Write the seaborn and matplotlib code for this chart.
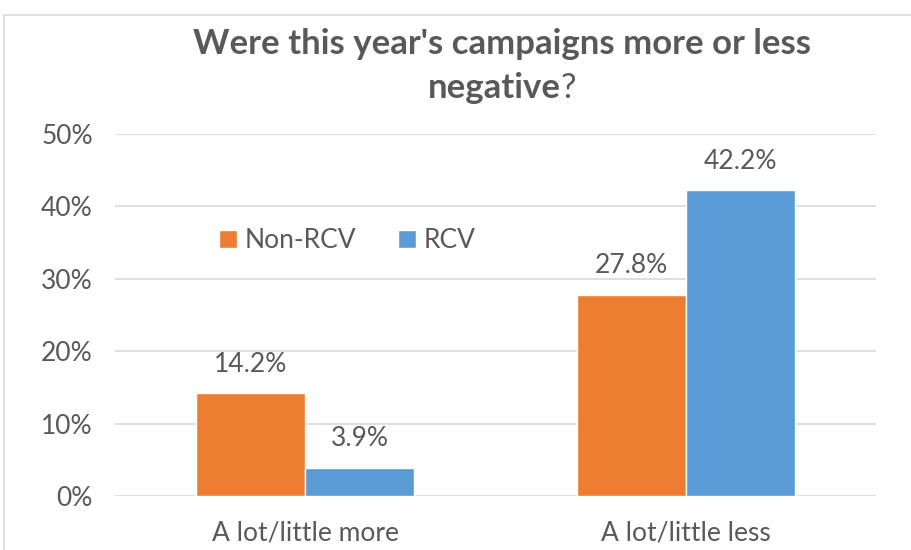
import pandas as pd
import matplotlib.pyplot as plt
import seaborn as sns
from matplotlib.patches import Rectangle

# data
categories = ['A lot/little more', 'A lot/little less']
non_rcv = [14.2, 27.8]
rcv = [3.9, 42.2]
series = ['Non-RCV', 'RCV']
colors = ['#ED7D31', '#5B9BD5']

df = pd.DataFrame({
    'category': categories * 2,
    'value': non_rcv + rcv,
    'group': [series[0]] * 2 + [series[1]] * 2,
})

sns.set_style('white')
plt.rcParams['font.family'] = ['Lato', 'DejaVu Sans']
text_color = '#595959'
fs = 19

fig = plt.figure(figsize=(9.12, 5.5), dpi=100)
ax = fig.add_axes([115 / 912, 1 - 496 / 550, 761 / 912, 362 / 550])

# chart frame
fig.patches.append(Rectangle((4 / 912, 1 - 555 / 550), 2.0, 540 / 550,
                             transform=fig.transFigure, fill=False,
                             edgecolor='#D9D9D9', linewidth=1.2, zorder=0))

sns.barplot(data=df, x='category', y='value', hue='group', palette=colors,
            width=0.573, saturation=1, ax=ax, zorder=3)

ax.set_ylim(0, 50)
ax.set_xlim(-0.5, 1.5)
ax.set_yticks(range(0, 51, 10))
ax.set_yticklabels([f'{v}%' for v in range(0, 51, 10)])
ax.yaxis.grid(True, color='#D9D9D9', linewidth=1.2, zorder=0)
ax.set_axisbelow(True)
for s in ax.spines.values():
    s.set_visible(False)
ax.tick_params(axis='both', length=0, labelsize=fs, colors=text_color)
ax.tick_params(axis='y', pad=16)
ax.tick_params(axis='x', pad=18)
ax.set_xlabel('')
ax.set_ylabel('')

for cont in ax.containers:
    for bar in cont:
        h = bar.get_height()
        ax.text(bar.get_x() + bar.get_width() / 2, h + 2.3, f'{h:.1f}%',
                ha='center', va='bottom', fontsize=fs, color=text_color)

leg = ax.legend(loc='center left', bbox_to_anchor=(0.105, 0.705), ncol=2,
                frameon=False, fontsize=fs, handlelength=0.7, handleheight=0.7,
                handletextpad=0.3, columnspacing=1.55, labelcolor=text_color)

fig.text(502 / 912, 1 - 44 / 550, "Were this year's campaigns more or less",
         ha='center', va='center', fontsize=25, fontweight='bold', color=text_color)

# second title line: bold "negative" + regular "?"
t1 = fig.text(0, 1 - 88 / 550, 'negative', ha='left', va='center',
              fontsize=25, fontweight='bold', color=text_color)
t2 = fig.text(0, 1 - 88 / 550, '?', ha='left', va='center',
              fontsize=25, color=text_color)
fig.canvas.draw()
r = fig.canvas.get_renderer()
w1 = t1.get_window_extent(r).width
w2 = t2.get_window_extent(r).width
x0 = 502 - (w1 + w2) / 2
t1.set_x(x0 / 912)
t2.set_x((x0 + w1) / 912)

fig.savefig('out.png', dpi=100)
